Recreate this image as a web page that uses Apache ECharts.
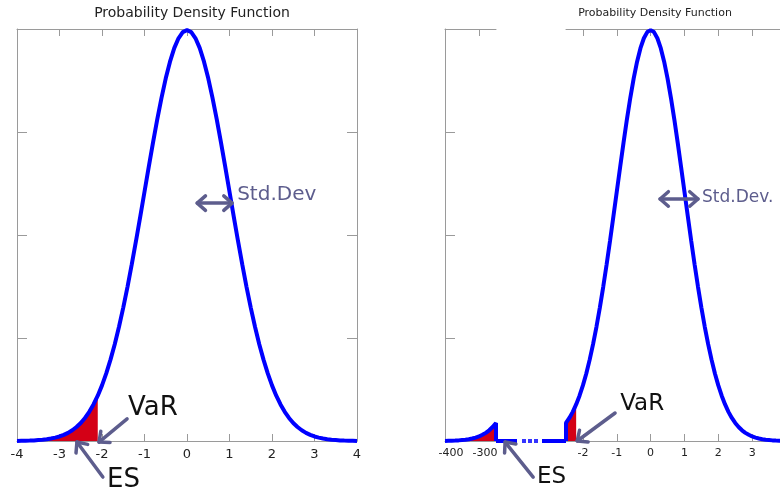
<!DOCTYPE html>
<html>
<head>
<meta charset="utf-8">
<script src="https://cdn.jsdelivr.net/npm/echarts@6/dist/echarts.min.js"></script>
<style>
html,body{margin:0;padding:0;background:#fff;}
#chart{width:780px;height:493px;}
</style>
</head>
<body>
<div id="chart"></div>
<script>
// ---- data ----
const xValues = [-4.0,-3.9,-3.8,-3.7,-3.6,-3.5,-3.4,-3.3,-3.2,-3.1,-3.0,-2.9,-2.8,-2.7,-2.6,-2.5,-2.4,-2.3,-2.2,-2.1,
  -2.0,-1.9,-1.8,-1.7,-1.6,-1.5,-1.4,-1.3,-1.2,-1.1,-1.0,-0.9,-0.8,-0.7,-0.6,-0.5,-0.4,-0.3,-0.2,-0.1,
  0.0,0.1,0.2,0.3,0.4,0.5,0.6,0.7,0.8,0.9,1.0,1.1,1.2,1.3,1.4,1.5,1.6,1.7,1.8,1.9,
  2.0,2.1,2.2,2.3,2.4,2.5,2.6,2.7,2.8,2.9,3.0,3.1,3.2,3.3,3.4,3.5,3.6,3.7,3.8,3.9,4.0];
const density = [0.0001,0.0002,0.0003,0.0004,0.0006,0.0009,0.0012,0.0017,0.0024,0.0033,0.0044,0.0060,0.0079,0.0104,0.0136,0.0175,0.0224,0.0283,0.0355,0.0440,
  0.0540,0.0656,0.0790,0.0940,0.1109,0.1295,0.1497,0.1714,0.1942,0.2179,0.2420,0.2661,0.2897,0.3123,0.3332,0.3521,0.3683,0.3814,0.3910,0.3970,
  0.3989,0.3970,0.3910,0.3814,0.3683,0.3521,0.3332,0.3123,0.2897,0.2661,0.2420,0.2179,0.1942,0.1714,0.1497,0.1295,0.1109,0.0940,0.0790,0.0656,
  0.0540,0.0440,0.0355,0.0283,0.0224,0.0175,0.0136,0.0104,0.0079,0.0060,0.0044,0.0033,0.0024,0.0017,0.0012,0.0009,0.0006,0.0004,0.0003,0.0002,0.0001];
// heavy tail of the right chart (broken axis part)
const tailX = [-400,-390,-380,-370,-360,-350,-340,-330,-320,-310,-300,-290,-280,-270,-260,-250];
const tailY = [0.0001,0.0002,0.0003,0.0004,0.0006,0.0009,0.0012,0.0017,0.0024,0.0033,0.0044,0.0060,0.0079,0.0104,0.0136,0.0175];
const leftVaR = -2.1;
const rightVaR = -2.2;
const rightStart = -2.5;
const leftTicks = [-4,-3,-2,-1,0,1,2,3,4];
const tailTicks = [-400,-300];
const rightTicks = [-2,-1,0,1,2,3,4];
const yTicks = [0,0.1,0.2,0.3,0.4];

// annotations: [x1,y1,x2,y2,double]
const leftArrows = [[-1.41,0.0214,-2.07,-0.001,0],[-1.98,-0.035,-2.59,-0.001,0],[0.24,0.231,1.06,0.231,1]];
const rightArrows = [[-1.05,0.0272,-2.17,0.0,0],[-3.47,-0.035,-4.30,-0.001,0],[0.28,0.235,1.40,0.235,1]];
const leftTexts = ['VaR','ES','Std.Dev'];
const leftTextPos = [[-1.39,0.032],[-1.88,-0.038],[1.18,0.239]];
const rightTexts = ['VaR','ES','Std.Dev.'];
const rightTextPos = [[-0.90,0.036],[-3.36,-0.035],[1.52,0.236]];

// ---- build ----
const BLUE = '#0000ff', RED = '#d40016', SLATE = '#5d5d8d', AX = '#9a9a9a';
const FONT = 'DejaVu Sans';
const pairs = xValues.map((x,i)=>[x,density[i]]);
const leftRed = pairs.filter(p=>p[0] <= leftVaR + 1e-9);
const rightSeg = [[rightStart,0]].concat(pairs.filter(p=>p[0] >= rightStart - 1e-9));
const rightRed = pairs.filter(p=>p[0] >= rightStart - 1e-9 && p[0] <= rightVaR + 1e-9);
const tailPairs = tailX.map((x,i)=>[x,tailY[i]]);
const tailLine = tailPairs.concat([[tailX[tailX.length-1],0]]);

function xAx(grid, pos, min, max, ticks, label, fs, labelExtra) {
  return {
    gridIndex: grid, type:'value', position: pos, min, max,
    axisLine:{show:true,onZero:false,lineStyle:{color:AX,width:1}},
    axisTick:{show:true,inside:true,length:7,customValues:ticks,lineStyle:{color:AX}},
    axisLabel:Object.assign({show:label,customValues:ticks,fontSize:fs,fontFamily:FONT,color:'#222',margin:7}, labelExtra||{}),
    splitLine:{show:false}
  };
}
function yAx(grid, pos, show) {
  return {
    gridIndex: grid, type:'value', position: pos, min:0, max:0.4, show: show,
    axisLine:{show:true,onZero:false,lineStyle:{color:AX,width:1}},
    axisTick:{show:true,inside:true,length:10,customValues:yTicks,lineStyle:{color:AX}},
    axisLabel:{show:false}, splitLine:{show:false}
  };
}

function arrowRender(arr) {
  return function(params, api) {
    const d = arr[params.dataIndex];
    const p1 = api.coord([d[0],d[1]]);
    const p2 = api.coord([d[2],d[3]]);
    const st = {stroke:SLATE,lineWidth:3.5,lineCap:'round',lineJoin:'round',fill:'none'};
    const head = (tip, from) => {
      const ang = Math.atan2(from[1]-tip[1], from[0]-tip[0]);
      const L = 11, a = 0.72;
      return {type:'polyline',shape:{points:[
        [tip[0]+L*Math.cos(ang+a), tip[1]+L*Math.sin(ang+a)], tip,
        [tip[0]+L*Math.cos(ang-a), tip[1]+L*Math.sin(ang-a)]]}, style:st};
    };
    const ch = [{type:'line',shape:{x1:p1[0],y1:p1[1],x2:p2[0],y2:p2[1]},style:st}, head(p2,p1)];
    if (d[4]) ch.push(head(p1,p2));
    return {type:'group',children:ch};
  };
}
function textRender(texts, sizes, colors) {
  return function(params, api) {
    const p = api.coord([api.value(0), api.value(1)]);
    const i = params.dataIndex;
    return {type:'text', x:p[0], y:p[1], style:{text:texts[i], fontSize:sizes[i], fontFamily:FONT,
      fill:colors[i], align:'left', verticalAlign:'middle'}};
  };
}

const G = {top:29, height:412, outerBoundsMode:'none', containLabel:false};
const option = {
  animation:false,
  backgroundColor:'#fff',
  title:[
    {text:'Probability Density Function', left:187, top:1, textAlign:'center',
     textStyle:{fontSize:14,fontWeight:'normal',fontFamily:FONT,color:'#222'}},
    {text:'Probability Density Function', left:650, top:3, textAlign:'center',
     textStyle:{fontSize:11,fontWeight:'normal',fontFamily:FONT,color:'#222'}}
  ],
  grid:[
    Object.assign({left:17, width:340}, G),
    Object.assign({left:445, width:51}, G),
    Object.assign({left:496, width:70}, G),
    Object.assign({left:566, width:220}, G)
  ],
  xAxis:[
    xAx(0,'bottom',-4,4,leftTicks,true,13),
    xAx(0,'top',-4,4,leftTicks,false,13),
    xAx(1,'bottom',-400,-250,tailTicks,true,11,{padding:[0,0,0,12]}),
    xAx(1,'top',-400,-250,[-300],false,11),
    {gridIndex:2,type:'value',min:0,max:70,show:false},
    xAx(3,'bottom',rightStart,4,rightTicks,true,11),
    xAx(3,'top',rightStart,4,rightTicks,false,11)
  ],
  yAxis:[
    yAx(0,'left',true),
    yAx(0,'right',true),
    yAx(1,'left',true),
    {gridIndex:2,type:'value',min:0,max:0.4,show:false},
    yAx(3,'left',false)
  ],
  series:[
    // left chart
    {type:'line',xAxisIndex:0,yAxisIndex:0,data:leftRed,showSymbol:false,symbol:'none',
     lineStyle:{width:0},areaStyle:{color:RED,opacity:1},itemStyle:{color:RED},z:2},
    {type:'line',xAxisIndex:0,yAxisIndex:0,data:pairs,showSymbol:false,symbol:'none',
     lineStyle:{width:4,color:BLUE},z:3},
    // right chart: tail part
    {type:'line',xAxisIndex:2,yAxisIndex:2,data:tailPairs,showSymbol:false,symbol:'none',
     lineStyle:{width:0},areaStyle:{color:RED,opacity:1},z:2},
    {type:'line',xAxisIndex:2,yAxisIndex:2,data:tailLine,showSymbol:false,symbol:'none',
     lineStyle:{width:4,color:BLUE},z:3},
    // gap
    {type:'line',xAxisIndex:4,yAxisIndex:3,data:[[0,0],[21,0]],showSymbol:false,symbol:'none',
     lineStyle:{width:4,color:BLUE},z:3},
    {type:'line',xAxisIndex:4,yAxisIndex:3,data:[[46,0],[70,0]],showSymbol:false,symbol:'none',
     lineStyle:{width:4,color:BLUE},z:3},
    {type:'scatter',xAxisIndex:4,yAxisIndex:3,data:[[28,0],[34,0],[40,0]],symbol:'rect',symbolSize:4,
     itemStyle:{color:BLUE},z:3},
    // right chart: main part
    {type:'line',xAxisIndex:5,yAxisIndex:4,data:rightRed,showSymbol:false,symbol:'none',
     lineStyle:{width:0},areaStyle:{color:RED,opacity:1},z:2},
    {type:'line',xAxisIndex:5,yAxisIndex:4,data:rightSeg,showSymbol:false,symbol:'none',
     lineStyle:{width:4,color:BLUE},z:3},
    // annotations
    {type:'custom',xAxisIndex:0,yAxisIndex:0,clip:false,data:leftArrows.map(a=>[a[0],a[1]]),
     renderItem:arrowRender(leftArrows),z:5},
    {type:'custom',xAxisIndex:0,yAxisIndex:0,clip:false,data:leftTextPos,
     renderItem:textRender(leftTexts,[26,26,20],['#111','#111',SLATE]),z:5},
    {type:'custom',xAxisIndex:5,yAxisIndex:4,clip:false,data:rightArrows.map(a=>[a[0],a[1]]),
     renderItem:arrowRender(rightArrows),z:5},
    {type:'custom',xAxisIndex:5,yAxisIndex:4,clip:false,data:rightTextPos,
     renderItem:textRender(rightTexts,[23,23,17],['#111','#111',SLATE]),z:5}
  ]
};
const chart = echarts.init(document.getElementById('chart'));
chart.setOption(option);
</script>
</body>
</html>
